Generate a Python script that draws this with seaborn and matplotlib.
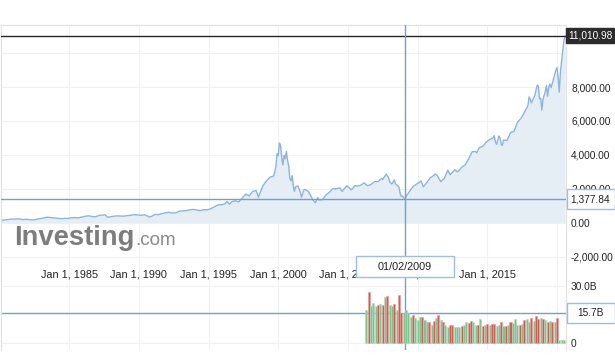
import matplotlib
matplotlib.use("Agg")
import matplotlib.pyplot as plt
import matplotlib.dates as mdates
from matplotlib.patches import Rectangle
import seaborn as sns
import pandas as pd

# ---------------- data ----------------
price_dates = [
    "1980-02", "1980-03", "1980-06", "1980-09", "1980-11", "1980-12",
    "1981-03", "1981-05", "1981-09", "1981-12",
    "1982-03", "1982-07", "1982-10", "1982-12",
    "1983-03", "1983-06", "1983-09", "1983-12",
    "1984-03", "1984-07", "1984-09", "1984-12",
    "1985-03", "1985-06", "1985-09", "1985-12",
    "1986-03", "1986-06", "1986-09", "1986-12",
    "1987-03", "1987-08", "1987-10", "1987-12",
    "1988-03", "1988-06", "1988-09", "1988-12",
    "1989-03", "1989-06", "1989-09", "1989-12",
    "1990-03", "1990-06", "1990-07", "1990-10", "1990-12",
    "1991-03", "1991-06", "1991-09", "1991-12",
    "1992-03", "1992-06", "1992-09", "1992-12",
    "1993-03", "1993-06", "1993-09", "1993-12",
    "1994-03", "1994-06", "1994-09", "1994-12",
    "1995-03", "1995-06", "1995-09", "1995-12",
    "1996-03", "1996-05", "1996-07", "1996-09", "1996-12",
    "1997-03", "1997-06", "1997-09", "1997-12",
    "1998-03", "1998-06", "1998-08", "1998-09", "1998-12",
    "1999-03", "1999-06", "1999-09", "1999-10", "1999-11", "1999-12",
    "2000-01", "2000-02", "2000-03", "2000-04", "2000-05", "2000-06",
    "2000-07", "2000-08", "2000-09", "2000-10", "2000-11", "2000-12",
    "2001-01", "2001-02", "2001-03", "2001-04", "2001-06", "2001-08",
    "2001-09", "2001-10", "2001-11", "2001-12",
    "2002-03", "2002-06", "2002-07", "2002-09", "2002-11", "2002-12",
    "2003-03", "2003-06", "2003-09", "2003-12",
    "2004-03", "2004-06", "2004-08", "2004-12",
    "2005-03", "2005-04", "2005-07", "2005-09", "2005-12",
    "2006-03", "2006-06", "2006-09", "2006-12",
    "2007-02", "2007-03", "2007-06", "2007-07", "2007-10", "2007-12",
    "2008-01", "2008-03", "2008-05", "2008-06", "2008-09", "2008-10",
    "2008-11", "2008-12",
    "2009-01", "2009-02", "2009-03", "2009-06", "2009-09", "2009-12",
    "2010-03", "2010-04", "2010-06", "2010-09", "2010-12",
    "2011-03", "2011-04", "2011-06", "2011-09", "2011-12",
    "2012-03", "2012-05", "2012-09", "2012-11", "2012-12",
    "2013-03", "2013-06", "2013-09", "2013-12",
    "2014-03", "2014-04", "2014-06", "2014-09", "2014-12",
    "2015-03", "2015-06", "2015-07", "2015-08", "2015-09", "2015-11", "2015-12",
    "2016-01", "2016-02", "2016-03", "2016-06", "2016-09", "2016-12",
    "2017-03", "2017-06", "2017-09", "2017-12",
    "2018-01", "2018-02", "2018-03", "2018-06", "2018-08", "2018-09",
    "2018-10", "2018-11", "2018-12",
    "2019-01", "2019-03", "2019-04", "2019-05", "2019-06", "2019-07",
    "2019-08", "2019-12",
    "2020-01", "2020-02", "2020-03", "2020-04", "2020-05", "2020-06",
    "2020-07", "2020-08",
]
price_values = [
    158, 131, 157, 187, 208, 202,
    210, 223, 180, 196,
    175, 167, 212, 232,
    271, 319, 297, 279,
    250, 230, 250, 247,
    280, 297, 280, 325,
    375, 405, 350, 349,
    430, 455, 323, 331,
    374, 394, 387, 381,
    406, 435, 472, 454,
    435, 462, 438, 329, 374,
    482, 475, 527, 586,
    603, 563, 583, 677,
    690, 704, 763, 777,
    743, 706, 764, 752,
    817, 933, 1044, 1052,
    1101, 1243, 1081, 1227, 1291,
    1222, 1442, 1686, 1570,
    1836, 1895, 1499, 1694, 2193,
    2461, 2686, 2746, 2966, 3336, 4069,
    3940, 4697, 4573, 3861, 3401, 3966,
    3767, 4206, 3673, 3370, 2598, 2471,
    2773, 2152, 1840, 2116, 2161, 1805,
    1499, 1690, 1931, 1950,
    1845, 1463, 1328, 1172, 1479, 1336,
    1341, 1623, 1787, 2003,
    1994, 2048, 1838, 2175,
    1999, 1922, 2185, 2151, 2205,
    2340, 2172, 2258, 2415,
    2416, 2422, 2603, 2546, 2859, 2652,
    2389, 2279, 2523, 2293, 2092, 1721,
    1536, 1577,
    1476, 1377.84, 1529, 1835, 2122, 2269,
    2398, 2461, 2109, 2369, 2653,
    2781, 2874, 2774, 2415, 2605,
    3092, 2827, 3116, 3010, 3020,
    3268, 3403, 3771, 4177,
    4199, 4115, 4408, 4493, 4736,
    4901, 4987, 5128, 4777, 4620, 5109, 5007,
    4614, 4558, 4870, 4843, 5312, 5383,
    5912, 6140, 6496, 6903,
    7411, 7273, 7063, 7510, 8110, 8046,
    7306, 7331, 6635,
    7282, 7729, 8095, 7453, 8006, 8175,
    7963, 8973,
    9151, 8567, 7700, 8890, 9490, 10059,
    10745, 11010.98,
]

# volume (billions), bars every two months from May 2006
vol_start = "2006-05-01"
vol_values = [
    17.4, 26.7, 19.2, 21.0, 19.2, 20.0, 20.5, 20.0, 23.9, 24.8,
    20.0, 19.2, 20.3, 17.4, 25.3, 15.7, 15.7, 17.4, 15.7, 13.9,
    15.0, 13.0, 12.2, 13.9, 13.9, 12.2, 11.3, 11.0, 9.6, 11.6,
    13.0, 15.0, 12.2, 11.3, 9.6, 8.7, 9.6, 9.6, 8.4, 8.4,
    8.7, 9.0, 9.3, 11.0, 10.5, 11.5, 11.0, 9.6, 9.3, 12.7,
    9.0, 9.6, 10.1, 9.6, 10.1, 10.1, 9.0, 9.6, 11.0, 9.0,
    9.0, 9.6, 11.0, 10.5, 12.7, 9.3, 9.6, 10.1, 12.2, 12.7,
    11.3, 13.0, 11.6, 14.2, 12.7, 13.0, 12.7, 12.2, 11.3, 11.6,
    11.3, 11.0, 13.0,
    1.9, 1.7, 1.6,
]
# g = up period (green), r = down period (red)
vol_dir = list(
    "grgggrgrgr"
    "ggrgrrgggg"
    "rgggrggrgr"
    "grgrggrrgg"
    "grggrrggrg"
    "rgrgrrggrg"
    "rgrgggrgrg"
    "grgrrgrgrg"
    "rgr"
    "ggg"
)

cross_date = "2009-02-01"
cross_date_label = "01/02/2009"
cross_price = 1377.84
cross_price_label = "1,377.84"
cross_vol = 15.7
cross_vol_label = "15.7B"
last_price = 11010.98
last_price_label = "11,010.98"

x_tick_dates = ["1985-01-01", "1990-01-01", "1995-01-01", "2000-01-01",
                "2005-01-01", "2010-01-01", "2015-01-01", "2020-01-01"]
x_tick_labels = ["Jan 1, 1985", "Jan 1, 1990", "Jan 1, 1995", "Jan 1, 2000",
                 "Jan 1, 2005", "Jan 1, 2010", "Jan 1, 2015", ""]
y_ticks = [-2000, 0, 2000, 4000, 6000, 8000, 10000]
y_tick_labels = ["-2,000.00", "0.00", "2,000.00", "4,000.00", "6,000.00",
                 "8,000.00", ""]
vol_ticks = [0, 30]
vol_tick_labels = ["0", "30.0B"]

# ---------------- style ----------------
sns.set_theme(style="white")
plt.rcParams["font.family"] = ["Liberation Sans", "DejaVu Sans"]

W, H = 615, 356
fig = plt.figure(figsize=(W / 100, H / 100), dpi=100)
fig.patch.set_facecolor("white")


def fy(px):
    return 1 - px / H


LEFT, RIGHT = 1, 566
ax = fig.add_axes([LEFT / W, fy(280), (RIGHT - LEFT) / W, (280 - 25) / H])
axv = fig.add_axes([LEFT / W, fy(350), (RIGHT - LEFT) / W, 70 / H])

df = pd.DataFrame({"date": pd.to_datetime(price_dates), "close": price_values})
vdf = pd.DataFrame({
    "date": pd.date_range(vol_start, periods=len(vol_values), freq="2MS"),
    "volume": vol_values,
    "dir": vol_dir[:len(vol_values)],
})

LINE = "#8cb4dd"
FILL = "#e5eef5"
BLUE = "#6f9fd8"
BOXBLUE = "#9dbde4"
GRID = "#f1f1f1"
SPINE = "#e3e3e3"
RED = "#d65a56"
GREEN = "#7fc390"

xmin, xmax = pd.Timestamp("1980-02-10"), pd.Timestamp("2020-08-25")

# price panel
ax.fill_between(df["date"], df["close"], 0, color=FILL, lw=0, zorder=1)
sns.lineplot(data=df, x="date", y="close", ax=ax, color=LINE, lw=1.0, zorder=2)
ax.axhline(last_price, color="#262626", lw=1.0, zorder=4)
ax.axhline(cross_price, color=BLUE, lw=1.0, zorder=4)
ax.axvline(pd.Timestamp(cross_date), color=BLUE, lw=1.0, zorder=4)
ax.set_xlim(xmin, xmax)
ax.set_ylim(-3386, 11658)
ax.set_xlabel("")
ax.set_ylabel("")
ax.yaxis.tick_right()
ax.set_yticks(y_ticks)
ax.set_yticklabels(y_tick_labels)
ax.set_xticks(pd.to_datetime(x_tick_dates))
ax.tick_params(axis="x", length=0, labelbottom=False)
ax.tick_params(axis="y", length=0, pad=3.6, labelsize=7.3, labelcolor="#222222")
ax.grid(True, color=GRID, lw=0.8)
ax.set_axisbelow(True)
for s in ["top", "left", "right"]:
    ax.spines[s].set_color(SPINE)
    ax.spines[s].set_linewidth(0.9)
ax.spines["bottom"].set_visible(False)

# volume panel
colors = [RED if d == "r" else GREEN for d in vdf["dir"]]
edges = ["#e79c98" if d == "r" else "#b2dbbd" for d in vdf["dir"]]
axv.axvline(pd.Timestamp(cross_date), color=BLUE, lw=1.0, zorder=1)
axv.axhline(cross_vol, color=BLUE, lw=1.0, zorder=1)
axv.bar(vdf["date"], vdf["volume"], width=54, color=colors,
        edgecolor=edges, linewidth=0.4, zorder=2)
axv.set_xlim(xmin, xmax)
axv.set_ylim(-3.49, 32.97)
axv.yaxis.tick_right()
axv.set_yticks(vol_ticks)
axv.set_yticklabels(vol_tick_labels)
axv.set_xticks(pd.to_datetime(x_tick_dates))
axv.set_xticklabels(x_tick_labels)
axv.xaxis.set_ticks_position("top")
axv.tick_params(axis="x", length=0, labeltop=True, labelbottom=False,
                pad=0.7, labelsize=7.8, labelcolor="#222222")
axv.tick_params(axis="y", length=0, pad=3.6, labelsize=7.3, labelcolor="#222222")
axv.grid(True, color=GRID, lw=0.8)
axv.set_axisbelow(True)
for s in ["left", "right"]:
    axv.spines[s].set_color(SPINE)
    axv.spines[s].set_linewidth(0.9)
axv.spines["top"].set_visible(False)
axv.spines["bottom"].set_visible(False)


# ---------------- annotation boxes ----------------
def y_px(axis, v):
    return H - axis.transData.transform((mdates.date2num(xmin), v))[1]


def x_px(axis, d):
    return axis.transData.transform((mdates.date2num(pd.Timestamp(d)), 0))[0]


def box(x0, yc, w, h, face, edge, text, tcolor):
    fig.patches.append(Rectangle((x0 / W, fy(yc + h / 2)), w / W, h / H,
                                 transform=fig.transFigure, facecolor=face,
                                 edgecolor=edge, lw=1.0, zorder=5))
    fig.text((x0 + w / 2) / W, fy(yc), text, ha="center", va="center",
             fontsize=7.3, color=tcolor, zorder=6)


box(566, y_px(ax, last_price), 48, 15, "#2b2b2b", "#2b2b2b", last_price_label, "white")
box(566.5, y_px(ax, cross_price), 48, 20, "white", BOXBLUE, cross_price_label, "#222222")
box(566.5, y_px(axv, cross_vol), 48, 20, "white", BOXBLUE, cross_vol_label, "#222222")
xc = x_px(ax, cross_date)
fig.patches.append(Rectangle(((xc - 49) / W, fy(277)), 98 / W, 21 / H,
                             transform=fig.transFigure, facecolor="white",
                             edgecolor=BOXBLUE, lw=1.0, zorder=5))
fig.text(xc / W, fy(266.5), cross_date_label, ha="center", va="center",
         fontsize=7.8, color="#222222", zorder=6)

# watermark
fig.text(14 / W, fy(245), "Investing", ha="left", va="baseline",
         fontsize=19.7, fontweight="bold", color="#7d7d7d", zorder=3)
fig.text(135 / W, fy(245), ".com", ha="left", va="baseline",
         fontsize=13.6, color="#8a8a8a", zorder=3)

fig.savefig("out.png", dpi=100)
